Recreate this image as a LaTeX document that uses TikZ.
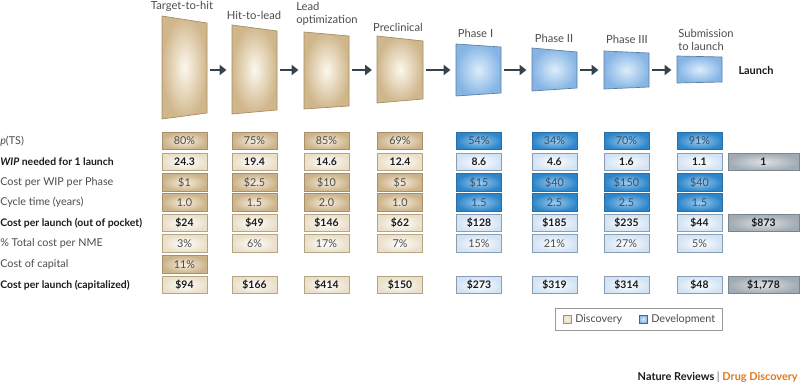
\documentclass[tikz,border=0pt]{standalone}
\usepackage{fontspec}
\setmainfont{Lato}
\usetikzlibrary{arrows.meta}
\definecolor{tanOut}{HTML}{CDB38A}
\definecolor{tanIn}{HTML}{F6EEDF}
\definecolor{tanB}{HTML}{A88F6C}
\definecolor{ltanOut}{HTML}{EADFC8}
\definecolor{ltanB}{HTML}{B5A585}
\definecolor{blueOut}{HTML}{2E86CA}
\definecolor{blueIn}{HTML}{9CCBEF}
\definecolor{blueB}{HTML}{2A6EA6}
\definecolor{lblueOut}{HTML}{D2E3F4}
\definecolor{lblueB}{HTML}{8A9DB3}
\definecolor{greyOut}{HTML}{A1ABB3}
\definecolor{greyIn}{HTML}{DDE2E6}
\definecolor{greyB}{HTML}{7B858E}
\definecolor{trTanOut}{HTML}{D0B68B}
\definecolor{trTanIn}{HTML}{FCF8EE}
\definecolor{trTanB}{HTML}{A58C67}
\definecolor{trBlueOut}{HTML}{86B5E5}
\definecolor{trBlueIn}{HTML}{DDEDFA}
\definecolor{trBlueB}{HTML}{5B7FA2}
\definecolor{arrowC}{HTML}{34444F}
\definecolor{txtGrey}{HTML}{4D4D4D}
\definecolor{txtBlue}{HTML}{3A4F66}
\definecolor{txtDark}{HTML}{1A1A1A}
\definecolor{natOrange}{HTML}{E07A1A}
\tikzset{
  cellfont/.style={font=\fontsize{8.1}{9.5}\selectfont},
  cell/.style={rectangle, minimum width=33.75pt, minimum height=13.1pt, inner sep=0pt, line width=0.5pt, cellfont},
  dtan/.style={cell, draw=tanB, inner color=tanIn, outer color=tanOut, text=txtGrey},
  ltan/.style={cell, draw=ltanB, inner color=white, outer color=ltanOut, text=txtDark},
  dblue/.style={cell, draw=blueB, inner color=blueIn, outer color=blueOut, text=txtBlue},
  lblue/.style={cell, draw=lblueB, inner color=white, outer color=lblueOut, text=txtDark},
  grey/.style={cell, draw=greyB, inner color=greyIn, outer color=greyOut, text=txtDark, minimum width=53.25pt},
  boldtxt/.style={font=\fontsize{7.8}{9.5}\selectfont\bfseries},
  rowlabel/.style={anchor=west, inner sep=0pt, text=txtGrey, cellfont},
  rowlabelb/.style={anchor=west, inner sep=0pt, text=txtDark, boldtxt},
  stagelabel/.style={inner sep=0pt, text=txtGrey, font=\fontsize{8.4}{10.2}\selectfont},
  anchorbox/.style={rectangle, minimum width=33.75pt, minimum height=6pt, inner sep=0pt},
  arr/.style={draw=arrowC, line width=2.2pt, -{Triangle[length=5pt,width=7.5pt]}, shorten <=2.2pt, shorten >=4pt},
  trtan/.style={draw=trTanB, line width=0.5pt, inner color=trTanIn, outer color=trTanOut},
  trblue/.style={draw=trBlueB, line width=0.5pt, inner color=trBlueIn, outer color=trBlueOut},
}
\begin{document}
\begin{tikzpicture}[x=0.75pt, y=-0.75pt]
\useasboundingbox (0,0) rectangle (800,385);
\fill[white] (0,0) rectangle (800,385);

% stage trapezoids
\path[trtan] (162,16) -- (207,23) -- (207,113) -- (162,119) -- cycle;
\path[trtan] (232,25) -- (277,31) -- (277,110) -- (232,114) -- cycle;
\path[trtan] (304,32) -- (349,36) -- (349,106) -- (304,109) -- cycle;
\path[trtan] (377,36) -- (423,41) -- (423,99) -- (377,103) -- cycle;
\path[trblue] (456,44) -- (501,47) -- (501,93) -- (456,96) -- cycle;
\path[trblue] (532,48) -- (577,52) -- (577,88) -- (532,91) -- cycle;
\path[trblue] (604,51) -- (649,53) -- (649,87) -- (604,89) -- cycle;
\path[trblue] (677,56) -- (722,57) -- (722,82) -- (677,83) -- cycle;

% anchor nodes for connectors
\node[anchorbox] (s1) at (184.5,70) {};
\node[anchorbox] (s2) at (254.5,70) {};
\node[anchorbox] (s3) at (326.5,70) {};
\node[anchorbox] (s4) at (400,70) {};
\node[anchorbox] (s5) at (478.5,70) {};
\node[anchorbox] (s6) at (554.5,70) {};
\node[anchorbox] (s7) at (626.5,70) {};
\node[anchorbox] (s8) at (699.5,70) {};

\draw[arr] (s1) -- (s2);
\draw[arr] (s2) -- (s3);
\draw[arr] (s3) -- (s4);
\draw[arr] (s4) -- (s5);
\draw[arr] (s5) -- (s6);
\draw[arr] (s6) -- (s7);
\draw[arr] (s7) -- (s8);

% stage labels
\node[stagelabel] (t1) at (182,6.5) {Target-to-hit};
\node[stagelabel] (t2) at (254,15.5) {Hit-to-lead};
\node[stagelabel, align=left, anchor=west] (t3) at (296,14) {Lead\\optimization};
\node[stagelabel] (t4) at (398,27) {Preclinical};
\node[stagelabel] (t5) at (475.5,33.5) {Phase I};
\node[stagelabel] (t6) at (554,38.5) {Phase II};
\node[stagelabel] (t7) at (627,39.5) {Phase III};
\node[stagelabel, align=left, anchor=west] (t8) at (678,40) {Submission\\to launch};
\node[stagelabel, text=txtDark, font=\fontsize{8.2}{10}\selectfont\bfseries] (t9) at (756,70) {Launch};

% row labels
\node[rowlabel] (l1) at (0,141) {\textit{p}(TS)};
\node[rowlabelb] (l2) at (0,162) {\textit{WIP} needed for 1 launch};
\node[rowlabel] (l3) at (0,182.5) {Cost per WIP per Phase};
\node[rowlabel] (l4) at (0,202.5) {Cycle time (years)};
\node[rowlabelb] (l5) at (0,223) {Cost per launch (out of pocket)};
\node[rowlabel] (l6) at (0,243.5) {\% Total cost per NME};
\node[rowlabel] (l7) at (0,264.5) {Cost of capital};
\node[rowlabelb] (l8) at (0,285) {Cost per launch (capitalized)};

% row 1
\foreach \x/\v [count=\i] in {184.5/80\%,254.5/75\%,326.5/85\%,400/69\%}
  \node[dtan] (r1c\i) at (\x,141) {\v};
\foreach \x/\v [count=\i from 5] in {479/54\%,554.5/34\%,626.5/70\%,699.5/91\%}
  \node[dblue] (r1c\i) at (\x,141) {\v};
% row 2
\foreach \x/\v [count=\i] in {184.5/24.3,254.5/19.4,326.5/14.6,400/12.4}
  \node[ltan, boldtxt] (r2c\i) at (\x,162) {\v};
\foreach \x/\v [count=\i from 5] in {479/8.6,554.5/4.6,626.5/1.6,699.5/1.1}
  \node[lblue, boldtxt] (r2c\i) at (\x,162) {\v};
\node[grey, boldtxt] (r2c9) at (763.5,162) {1};
% row 3
\foreach \x/\v [count=\i] in {184.5/\$1,254.5/\$2.5,326.5/\$10,400/\$5}
  \node[dtan] (r3c\i) at (\x,182.5) {\v};
\foreach \x/\v [count=\i from 5] in {479/\$15,554.5/\$40,626.5/\$150,699.5/\$40}
  \node[dblue] (r3c\i) at (\x,182.5) {\v};
% row 4
\foreach \x/\v [count=\i] in {184.5/1.0,254.5/1.5,326.5/2.0,400/1.0}
  \node[dtan] (r4c\i) at (\x,202.5) {\v};
\foreach \x/\v [count=\i from 5] in {479/1.5,554.5/2.5,626.5/2.5,699.5/1.5}
  \node[dblue] (r4c\i) at (\x,202.5) {\v};
% row 5
\foreach \x/\v [count=\i] in {184.5/\$24,254.5/\$49,326.5/\$146,400/\$62}
  \node[ltan, boldtxt] (r5c\i) at (\x,223) {\v};
\foreach \x/\v [count=\i from 5] in {479/\$128,554.5/\$185,626.5/\$235,699.5/\$44}
  \node[lblue, boldtxt] (r5c\i) at (\x,223) {\v};
\node[grey, boldtxt] (r5c9) at (763.5,223) {\$873};
% row 6
\foreach \x/\v [count=\i] in {184.5/3\%,254.5/6\%,326.5/17\%,400/7\%}
  \node[ltan, text=txtGrey] (r6c\i) at (\x,243.5) {\v};
\foreach \x/\v [count=\i from 5] in {479/15\%,554.5/21\%,626.5/27\%,699.5/5\%}
  \node[lblue, text=txtGrey] (r6c\i) at (\x,243.5) {\v};
% row 7
\node[dtan] (r7c1) at (184.5,264.5) {11\%};
% row 8
\foreach \x/\v [count=\i] in {184.5/\$94,254.5/\$166,326.5/\$414,400/\$150}
  \node[ltan, boldtxt] (r8c\i) at (\x,285) {\v};
\foreach \x/\v [count=\i from 5] in {479/\$273,554.5/\$319,626.5/\$314,699.5/\$48}
  \node[lblue, boldtxt] (r8c\i) at (\x,285) {\v};
\node[grey, boldtxt] (r8c9) at (763.5,285) {\$1,778};

% legend
\node[rectangle, draw=black!40, line width=0.5pt, minimum width=125.25pt, minimum height=16.5pt, inner sep=0pt] (leg) at (638.5,319) {};
\node[rectangle, draw=tanB, line width=0.4pt, inner color=tanIn, outer color=ltanOut, minimum size=6pt, inner sep=0pt] (legt) at (567,319) {};
\node[anchor=west, inner sep=0pt, text=txtGrey, cellfont] (legtl) at (575,319) {Discovery};
\node[rectangle, draw=blueB, line width=0.4pt, inner color=trBlueIn, outer color=trBlueOut, minimum size=6pt, inner sep=0pt] (legb) at (643,319) {};
\node[anchor=west, inner sep=0pt, text=txtGrey, cellfont] (legbl) at (651,319) {Development};

% footer
\node[anchor=east, inner sep=0pt, font=\fontsize{8.2}{9.5}\selectfont\bfseries] (foot) at (798,377)
  {\textcolor{txtDark}{Nature Reviews} \textcolor{black!45}{|} \textcolor{natOrange}{Drug Discovery}};
\end{tikzpicture}
\end{document}
